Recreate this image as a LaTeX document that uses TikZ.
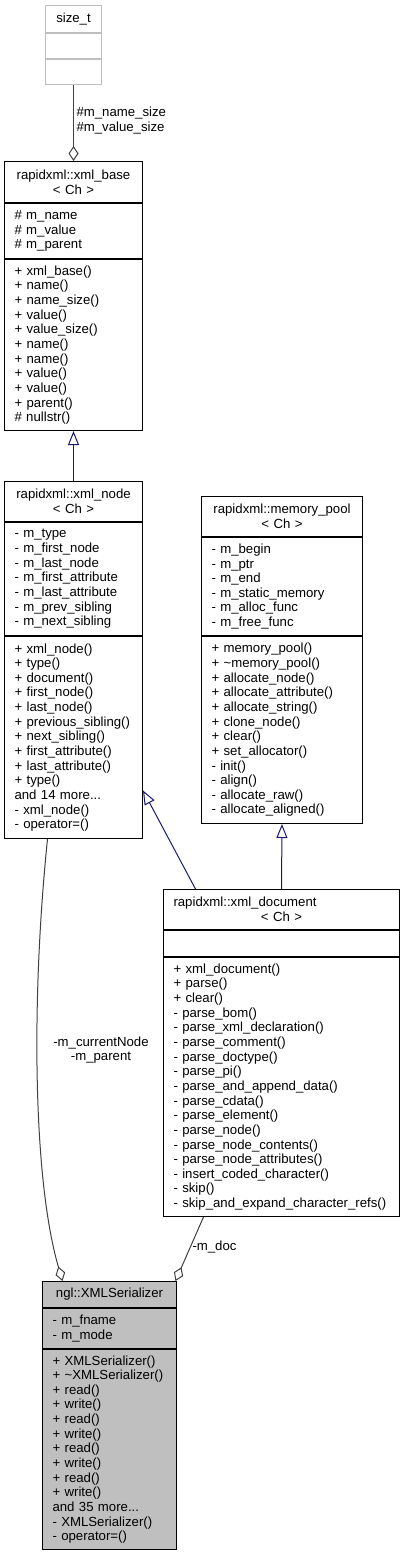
\documentclass[tikz,border=0pt]{standalone}
\usepackage{fontspec}
\setmainfont{Liberation Sans}
\usetikzlibrary{arrows.meta}
\definecolor{edgeblue}{RGB}{25,25,112}
\definecolor{edgegray}{RGB}{64,64,64}
\definecolor{boxgray}{RGB}{191,191,191}
\newcommand{\umlfont}{\fontsize{13.2}{14.65}\selectfont}
\tikzset{
  umlpart/.style={draw, fill=white, anchor=north west, inner xsep=10pt, inner ysep=0pt, align=left, font=\umlfont},
  umltitle/.style={umlpart, align=center},
  inherit/.style={draw=edgeblue, -{Triangle[open, length=14pt, width=11pt]}},
  assoc/.style={draw=edgegray, -{Diamond[open, length=15pt, width=10pt]}},
  lbl/.style={inner sep=0pt, font=\umlfont},
}
\begin{document}
\begin{tikzpicture}[x=1pt, y=-1pt, line width=1pt]
\useasboundingbox (0,0) rectangle (404,1555);

\node[umltitle, draw=boxgray, text width=36pt, minimum height=27pt] (sizet) at (45,5) {size\_t};
\node[umlpart, draw=boxgray, text width=36pt, minimum height=25pt] (sizea) at (sizet.south west) {};
\node[umlpart, draw=boxgray, text width=36pt, minimum height=25pt] (sizem) at (sizea.south west) {};

\node[umltitle, text width=118pt, minimum height=41pt] (baset) at (4,161) {rapidxml::xml\_base\\< Ch >};
\node[umlpart, text width=118pt, minimum height=55pt] (basea) at (baset.south west) {\# m\_name\\\# m\_value\\\# m\_parent};
\node[umlpart, text width=118pt, minimum height=171pt] (basem) at (basea.south west) {+ xml\_base()\\+ name()\\+ name\_size()\\+ value()\\+ value\_size()\\+ name()\\+ name()\\+ value()\\+ value()\\+ parent()\\\# nullstr()};

\node[umltitle, text width=118pt, minimum height=40pt] (nodet) at (4,481) {rapidxml::xml\_node\\< Ch >};
\node[umlpart, text width=118pt, minimum height=113pt] (nodea) at (nodet.south west) {- m\_type\\- m\_first\_node\\- m\_last\_node\\- m\_first\_attribute\\- m\_last\_attribute\\- m\_prev\_sibling\\- m\_next\_sibling};
\node[umlpart, text width=118pt, minimum height=202pt] (nodem) at (nodea.south west) {+ xml\_node()\\+ type()\\+ document()\\+ first\_node()\\+ last\_node()\\+ previous\_sibling()\\+ next\_sibling()\\+ first\_attribute()\\+ last\_attribute()\\+ type()\\and 14 more...\\- xml\_node()\\- operator=()};

\node[umltitle, text width=141pt, minimum height=40pt] (poolt) at (201,496) {rapidxml::memory\_pool\\< Ch >};
\node[umlpart, text width=141pt, minimum height=98pt] (poola) at (poolt.south west) {- m\_begin\\- m\_ptr\\- m\_end\\- m\_static\_memory\\- m\_alloc\_func\\- m\_free\_func};
\node[umlpart, text width=141pt, minimum height=187pt] (poolm) at (poola.south west) {+ memory\_pool()\\+ \textasciitilde memory\_pool()\\+ allocate\_node()\\+ allocate\_attribute()\\+ allocate\_string()\\+ clone\_node()\\+ clear()\\+ set\_allocator()\\- init()\\- align()\\- allocate\_raw()\\- allocate\_aligned()};

\node[umlpart, text width=216pt, minimum height=40pt] (doct) at (163,889) {rapidxml::xml\_document\\\makebox[\linewidth]{< Ch >}};
\node[umlpart, text width=216pt, minimum height=26pt] (doca) at (doct.south west) {};
\node[umlpart, text width=216pt, minimum height=259pt] (docm) at (doca.south west) {+ xml\_document()\\+ parse()\\+ clear()\\- parse\_bom()\\- parse\_xml\_declaration()\\- parse\_comment()\\- parse\_doctype()\\- parse\_pi()\\- parse\_and\_append\_data()\\- parse\_cdata()\\- parse\_element()\\- parse\_node()\\- parse\_node\_contents()\\- parse\_node\_attributes()\\- insert\_coded\_character()\\- skip()\\- skip\_and\_expand\_character\_refs()};

\node[umltitle, fill=boxgray, text width=114pt, minimum height=26pt] (sert) at (42,1281) {ngl::XMLSerializer};
\node[umlpart, fill=boxgray, text width=114pt, minimum height=40pt] (sera) at (sert.south west) {- m\_fname\\- m\_mode};
\node[umlpart, fill=boxgray, text width=114pt, minimum height=200pt] (serm) at (sera.south west) {+ XMLSerializer()\\+ \textasciitilde XMLSerializer()\\+ read()\\+ write()\\+ read()\\+ write()\\+ read()\\+ write()\\+ read()\\+ write()\\and 35 more...\\- XMLSerializer()\\- operator=()};

\draw[assoc] (sizem.south) -- (baset.north);
\draw[inherit] (nodet.north) -- (basem.south);
\draw[inherit] ([xshift=-86pt]doct.north) -- ([yshift=-53pt]nodem.east);
\draw[inherit] (doct.north) -- (poolm.south);
\draw[assoc] ([xshift=-26pt]nodem.south) .. controls (31,1000) and (33,1180) .. ([xshift=-47pt]sert.north);
\draw[assoc] ([xshift=-78pt]docm.south) -- ([xshift=66pt]sert.north);

\node[lbl, anchor=west, align=left] (lblsize) at (76,120.5) {\#m\_name\_size\\\#m\_value\_size};
\node[lbl, align=center] (lblcur) at (101,1050) {-m\_currentNode\\-m\_parent};
\node[lbl, anchor=west] (lbldoc) at (192,1247) {-m\_doc};
\end{tikzpicture}
\end{document}
